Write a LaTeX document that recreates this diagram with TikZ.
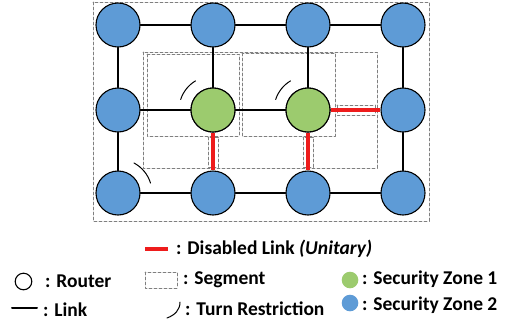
\documentclass[tikz,border=0pt]{standalone}
\usepackage{fontspec}
\setmainfont{Carlito}
\usetikzlibrary{positioning}
\definecolor{zoneone}{HTML}{9CCB6E}
\definecolor{zonetwo}{HTML}{5E9BD6}
\definecolor{disabledred}{HTML}{EE1C1C}
\definecolor{segmentgray}{HTML}{7F7F7F}
\begin{document}
\begin{tikzpicture}[line cap=round,line join=round,x=1pt,y=-1pt,
  router/.style={circle,draw=black,line width=1.1pt,minimum size=44pt,inner sep=0pt},
  link/.style={line width=2pt,black},
  thinlink/.style={line width=1.5pt,black},
  disabled/.style={line width=3.2pt,disabledred,line cap=butt},
  segbox/.style={draw=segmentgray,dashed,line width=0.7pt,dash pattern=on 3pt off 2pt},
  turn/.style={line width=1pt,black},
  legtext/.style={anchor=west,inner sep=0pt,font=\bfseries\fontsize{19.5}{22}\selectfont}]
\useasboundingbox (0,0) rectangle (511,325);
% segments
\draw[segbox] (93,2) rectangle (429,221);
\draw[segbox] (143,52) rectangle (377,168);
\draw[segbox] (147,54) rectangle (239,136);
\draw[segbox] (242,53) rectangle (335,136);
\draw[segbox] (208,137) rectangle (218,167);
\draw[segbox] (303,137) rectangle (313,167);
\draw[segbox] (337,105) rectangle (375,115);
% routers
\foreach \c/\x in {1/118,2/213,3/308,4/403}
  \foreach \r/\y in {1/25,2/110,3/193}
    \node[router,fill=zonetwo] (r-\c-\r) at (\x,\y) {};
\node[router,fill=zoneone] at (r-2-2) {};
\node[router,fill=zoneone] at (r-3-2) {};
% links
\draw[link] (r-1-1) -- (r-2-1);
\draw[link] (r-2-1) -- (r-3-1);
\draw[link] (r-3-1) -- (r-4-1);
\draw[link] (r-1-3) -- (r-2-3);
\draw[link] (r-2-3) -- (r-3-3);
\draw[link] (r-3-3) -- (r-4-3);
\draw[link] (r-1-1) -- (r-1-2);
\draw[link] (r-1-2) -- (r-1-3);
\draw[link] (r-4-1) -- (r-4-2);
\draw[link] (r-4-2) -- (r-4-3);
\draw[thinlink] (r-2-1) -- (r-2-2);
\draw[thinlink] (r-1-2) -- (r-2-2);
\draw[thinlink] (r-2-2) -- (r-3-2);
\draw[thinlink] (r-3-1) -- (r-3-2);
\draw[disabled] (r-2-2) -- (r-2-3);
\draw[disabled] (r-3-2) -- (r-3-3);
\draw[disabled] (r-3-2) -- (r-4-2);
% turn restrictions
\draw[turn] ([shift={(-162:34)}]r-2-2.center) arc[start angle=-162,end angle=-121,radius=34];
\draw[turn] ([shift={(-162:34)}]r-3-2.center) arc[start angle=-162,end angle=-121,radius=34];
\draw[turn] ([shift={(-17:34)}]r-1-3.center) arc[start angle=-17,end angle=-62,radius=34];
% legend
\draw[disabled] (145,249) -- (168,249);
\node[legtext] (l-disabled) at (176,249) {: Disabled Link \textit{(Unitary)}};
\draw[line width=1.1pt] (23.5,281.5) circle[radius=8.3];
\node[legtext] (l-router) at (45,281) {: Router};
\draw[segbox] (145,272) rectangle (177,288);
\node[legtext] (l-segment) at (183,280) {: Segment};
\fill[zoneone] (350,280) circle[radius=8.3];
\node[legtext] (l-zoneone) at (362,279) {: Security Zone 1};
\draw[link] (12,308) -- (37,308);
\node[legtext] (l-link) at (43,310) {: Link};
\draw[turn] (167,318) .. controls (175,315) and (180,310) .. (180,302);
\node[legtext] (l-turn) at (185,309) {: Turn Restriction};
\fill[zonetwo] (350,303) circle[radius=8.3];
\node[legtext] (l-zonetwo) at (362,305) {: Security Zone 2};
\end{tikzpicture}
\end{document}
